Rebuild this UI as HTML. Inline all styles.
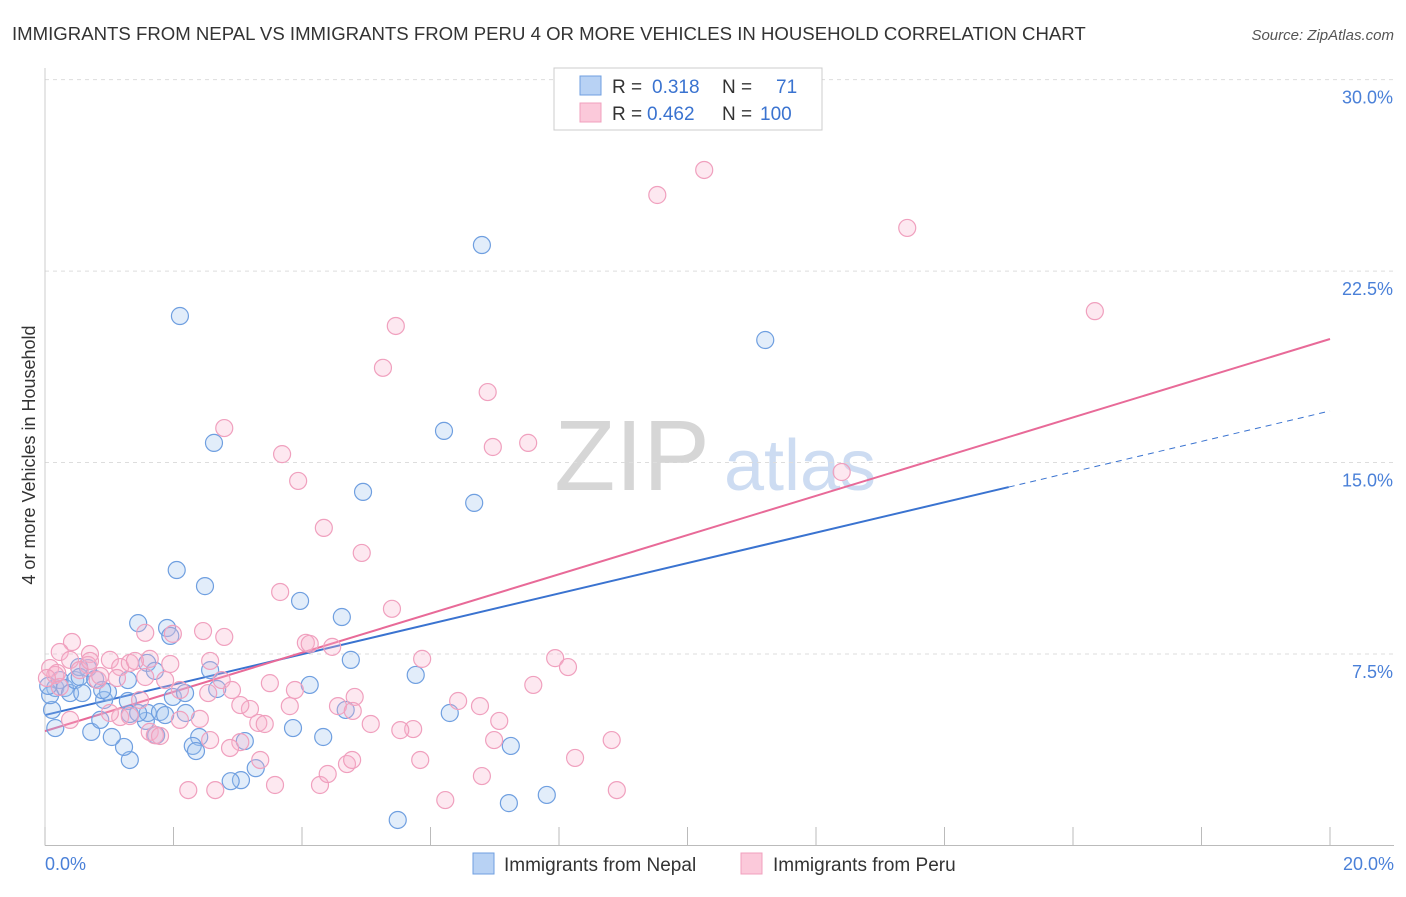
<!DOCTYPE html>
<html><head><meta charset="utf-8"><style>
body{margin:0;background:#fff;font-family:"Liberation Sans",sans-serif;}
svg text{font-family:"Liberation Sans",sans-serif;}
</style></head><body>
<svg id="chart" width="1406" height="892" xmlns="http://www.w3.org/2000/svg">
<text x="12" y="40" font-size="18.6" fill="#333">IMMIGRANTS FROM NEPAL VS IMMIGRANTS FROM PERU 4 OR MORE VEHICLES IN HOUSEHOLD CORRELATION CHART</text>
<text x="1394" y="40" font-size="15" fill="#555" font-style="italic" text-anchor="end">Source: ZipAtlas.com</text>
<text x="35" y="455" font-size="18" fill="#333" transform="rotate(-90 35 455)" text-anchor="middle">4 or more Vehicles in Household</text>
<g>
<text x="632" y="490" font-size="100" fill="#d6d6d6" font-family="Liberation Serif" text-anchor="middle">ZIP</text>
<text x="800" y="490" font-size="72" fill="#cddcf2" text-anchor="middle">atlas</text>
</g>
<g id="grid"></g><g id="axes"></g><g id="lines"></g><g id="pts"></g>
<g>
<rect x="554" y="68" width="268" height="62" fill="#fff" stroke="#ccc"/>
<rect x="580" y="76" width="21" height="19" fill="#b8d2f4" stroke="#6f9fe0"/>
<rect x="580" y="103" width="21" height="19" fill="#fbc9da" stroke="#f0a0be"/>
<text x="612" y="93" font-size="19" fill="#333">R = </text><text x="652" y="93" font-size="19" fill="#3a73d0">0.318</text>
<text x="722" y="93" font-size="19" fill="#333">N = </text><text x="776" y="93" font-size="19" fill="#3a73d0">71</text>
<text x="612" y="120" font-size="19" fill="#333">R = </text><text x="647" y="120" font-size="19" fill="#3a73d0">0.462</text>
<text x="722" y="120" font-size="19" fill="#333">N = </text><text x="760" y="120" font-size="19" fill="#3a73d0">100</text>
</g>
<g>
<rect x="473" y="853" width="21" height="21" fill="#b8d2f4" stroke="#6f9fe0"/>
<text x="504" y="871" font-size="19" fill="#333">Immigrants from Nepal</text>
<rect x="741" y="853" width="21" height="21" fill="#fbc9da" stroke="#f0a0be"/>
<text x="773" y="871" font-size="19" fill="#333">Immigrants from Peru</text>
</g>
</svg>
<script>
const xTicks=[0,2,4,6,8,10,12,14,16,18,20];
const yTicks=[7.5,15,22.5,30];
const yTickLabels=["7.5%","15.0%","22.5%","30.0%"];
const nepalX=[6.80,2.10,11.21,2.63,6.21,4.95,6.68,2.05,2.49,3.97,4.62,1.45,1.90,1.95,4.76,5.77,6.30,3.86,4.33,7.25,5.49,7.81,7.22,3.05,2.89,3.28,3.11,2.40,2.30,2.35,2.19,1.32,1.23,1.04,0.72,0.86,0.92,0.98,1.29,1.29,1.59,1.71,1.57,1.60,1.79,1.87,1.99,2.18,2.57,2.68,4.12,0.16,0.11,0.16,0.23,0.31,0.39,0.47,0.58,0.67,0.53,0.54,0.78,0.89,1.32,1.45,1.73,0.08,0.05,4.68];
const nepalY=[23.52,20.74,19.80,15.77,16.24,13.85,13.42,10.79,10.16,9.58,8.95,8.71,8.52,8.21,7.27,6.68,5.19,4.60,4.25,3.90,1.00,1.98,1.66,2.56,2.52,3.03,4.09,4.25,3.90,3.70,5.19,3.35,3.86,4.25,4.45,4.92,5.70,6.01,5.66,6.48,7.15,6.84,4.88,5.19,5.23,5.11,5.82,5.97,6.87,6.13,6.29,4.60,5.31,6.17,6.48,6.17,5.97,6.48,5.97,6.95,6.99,6.60,6.52,6.09,5.15,5.19,4.32,5.89,6.25,5.31];
const peruX=[10.26,9.53,13.42,16.34,5.46,5.26,6.89,7.52,6.97,2.79,3.69,3.94,12.40,4.34,4.93,3.66,5.40,4.06,4.12,4.47,2.46,1.99,1.56,2.79,0.42,0.70,0.23,1.63,1.95,2.57,1.01,1.17,1.32,1.40,0.67,0.39,0.08,0.16,0.23,0.82,1.12,1.56,1.87,2.10,2.54,2.75,2.91,3.50,3.89,4.82,3.19,3.32,3.42,3.81,4.56,4.79,5.07,5.73,6.43,6.77,7.07,7.60,7.94,8.14,5.87,5.53,6.99,3.04,3.35,2.88,2.57,1.63,1.71,1.79,1.17,1.32,2.41,2.10,3.58,2.23,2.65,4.28,4.40,4.70,4.78,5.84,6.80,6.23,8.25,8.82,8.90,0.86,0.54,0.39,0.19,0.03,1.01,1.48,0.70,3.04];
const peruY=[26.46,25.48,24.19,20.93,20.35,18.71,17.76,15.77,15.61,16.35,15.33,14.28,14.63,12.44,11.46,9.93,9.27,7.94,7.90,7.78,8.40,8.29,8.33,8.17,7.97,7.50,7.58,7.31,7.11,7.23,7.27,6.99,7.15,7.23,7.07,7.27,6.95,6.68,6.21,6.48,6.56,6.60,6.48,6.09,5.97,6.48,6.09,6.36,6.09,5.82,5.35,4.80,4.76,5.46,5.46,5.27,4.76,4.56,5.66,5.46,4.88,6.29,7.34,6.99,7.31,4.52,4.13,4.05,3.35,3.82,4.13,4.45,4.32,4.29,5.03,5.07,4.96,4.92,2.37,2.17,2.17,2.37,2.80,3.19,3.35,3.35,2.72,1.78,3.43,4.13,2.17,6.64,6.87,4.92,6.76,6.56,5.19,5.70,7.23,5.50];
const nepalTrend=[5.11,14.04,17.02]; // at x=0, 15, 20
const peruTrend=[4.48,19.84]; // at x=0, 20
const NS="http://www.w3.org/2000/svg";
const X=v=>45+v*64.25, Y=v=>845.5-v*25.53;
function mk(tag,attrs,parent){const e=document.createElementNS(NS,tag);for(const k in attrs)e.setAttribute(k,attrs[k]);document.getElementById(parent).appendChild(e);return e;}
const grid="grid",axes="axes";
yTicks.forEach((t,i)=>{
 const l=mk('line',{x1:45,x2:1394,y1:Y(t),y2:Y(t),stroke:'#ddd','stroke-dasharray':'4,4'},grid);
 
 
 const tx=mk('text',{x:1393,y:Y(t)+24,'font-size':18,fill:'#4a80d8','text-anchor':'end'},axes);
 tx.textContent=yTickLabels[i];
 
 
});
const al=mk('line',{x1:45,x2:1394,y1:845.5,y2:845.5,stroke:'#bbb'},axes);


const yl=mk('line',{x1:45,x2:45,y1:68,y2:845.5,stroke:'#ccc'},axes);


xTicks.forEach(t=>{
 const l=mk('line',{x1:X(t),x2:X(t),y1:827,y2:845.5,stroke:'#bbb'},axes);
 
 
});
[[0,"0.0%","start",45],[20,"20.0%","end",1394]].forEach(a=>{
 const tx=mk('text',{x:a[3],y:870,'font-size':18,fill:'#4a80d8','text-anchor':a[2]},axes);
 tx.textContent=a[1];
 
 
});
function dots(xs,ys,fill,stroke,name){xs.forEach((x,i)=>{
 const c=mk('circle',{cx:X(x),cy:Y(ys[i]),r:8.5,fill:fill,stroke:stroke,'stroke-width':1.2},'pts');
 
 
});}
dots(nepalX,nepalY,'rgba(160,196,240,0.3)','#6f9fe0','nepal-point');
dots(peruX,peruY,'rgba(248,180,205,0.3)','#f0a0be','peru-point');
let ln=mk('line',{x1:X(0),y1:Y(nepalTrend[0]),x2:X(15),y2:Y(nepalTrend[1]),stroke:'#3a73d0','stroke-width':2},'lines');


ln=mk('line',{x1:X(15),y1:Y(nepalTrend[1]),x2:X(20),y2:Y(nepalTrend[2]),stroke:'#3a73d0','stroke-width':1,'stroke-dasharray':'6,5'},'lines');


ln=mk('line',{x1:X(0),y1:Y(peruTrend[0]),x2:X(20),y2:Y(peruTrend[1]),stroke:'#e86a98','stroke-width':2},'lines');


</script>
</body></html>
